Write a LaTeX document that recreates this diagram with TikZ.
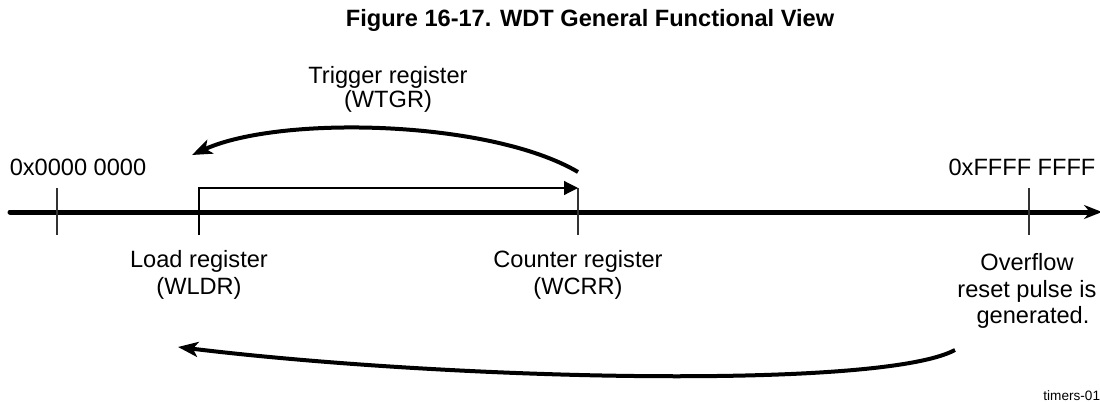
\documentclass[tikz,border=0pt]{standalone}
\usepackage{fontspec}
\setmainfont{Liberation Sans}
\usetikzlibrary{arrows.meta,positioning}

\begin{document}
\begin{tikzpicture}[
      x=0.5pt, y=-0.5pt,
      label/.style={
        font=\fontsize{11.8}{13.2}\selectfont,
        align=center,
        inner sep=0pt
      },
      axis/.style={
        -{Stealth[length=9pt,width=7pt]},
        line width=2.5pt,
        line cap=round
      },
      tick/.style={
        line width=0.6pt,
        draw=black!80
      },
      bracket/.style={
        -{Triangle[length=7pt,width=7pt]},
        line width=0.6pt
      },
      loop/.style={
        -{Stealth[length=10pt,width=7.5pt,inset=2.5pt]},
        line width=2pt
      }
    ]
      \useasboundingbox (0,0) rectangle (1100,402);
      % title
      \node[label, font=\bfseries\fontsize{11.8}{13}\selectfont] (title) at (590,20) {Figure 16-17. WDT General Functional View};
      % axis
      \coordinate (axstart) at (10,212);
      \coordinate (axend) at (1102,212);
      \draw[axis] (axstart) -- (axend);
      % tick marks
      \foreach \name/\xpos in {zero/57, ldr/199, crr/578, ovf/1029} {
        \coordinate (\name-top) at (\xpos,188);
        \coordinate (\name-bot) at (\xpos,235);
        \draw[tick] (\name-top) -- (\name-bot);
      }
      % bracket load -> counter
      \draw[bracket] (ldr-bot) |- (crr-top);
      % labels
      \node[label] (zero) at (78,167) {0x0000 0000};
      \node[label] (ffff) at (1022,167) {0xFFFF FFFF};
      \node[label] (wldr) at (199,275) {Load register\\(WLDR)};
      \node[label] (wcrr) at (578,275) {Counter register\\(WCRR)};
      \node[label] (reset) at (1027,291) {Overflow\\reset pulse is\\\hspace{6pt}generated.};
      \node[label, font=\fontsize{11.8}{12}\selectfont] (wtgr) at (388,89) {Trigger register\\(WTGR)};
      \node[font=\fontsize{6.8}{8}\selectfont, anchor=west, inner sep=0pt] (tag) at (1043,396) {timers-017};
      % loop arrows
      \coordinate (trigstart) at (578,172);
      \coordinate (trigend) at (192,155);
      \coordinate (ovfstart) at (955,350);
      \coordinate (ovfend) at (178,347);
      \draw[loop] (trigstart) .. controls (490,120) and (280,115) .. (trigend);
      \draw[loop] (ovfstart) .. controls (880,390) and (450,380) .. (ovfend);
    \end{tikzpicture}
\end{document}
